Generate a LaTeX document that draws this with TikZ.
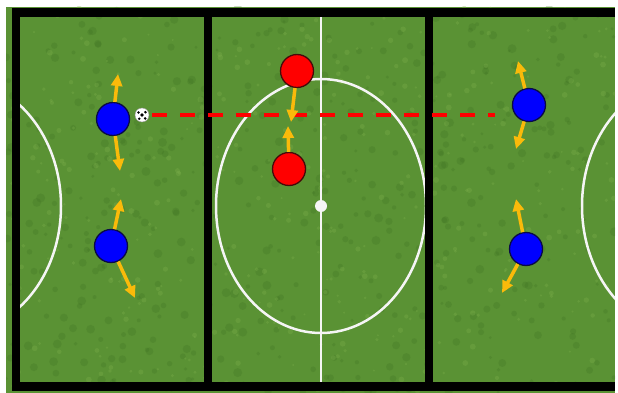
\documentclass[tikz,border=0pt]{standalone}
\usepackage{tikz}
\usetikzlibrary{arrows.meta,calc,positioning}
\definecolor{grass}{RGB}{90,146,52}
\definecolor{grassdark}{RGB}{62,112,34}
\definecolor{grasslight}{RGB}{128,178,78}
\definecolor{gold}{RGB}{250,186,10}
\definecolor{navy}{RGB}{10,10,70}
\definecolor{darkred}{RGB}{70,10,10}

\begin{document}
\begin{tikzpicture}[
  x=1pt,y=-1pt,
  >={Triangle[length=12pt,width=11pt]},
  pitchline/.style={draw=white!92!gray,line width=2.5pt},
  frame/.style={draw=black,line width=8.5pt},
  blueplayer/.style={circle,draw=navy,line width=1.3pt,fill=blue,minimum size=33pt,inner sep=0pt},
  redplayer/.style={circle,draw=darkred,line width=1.3pt,fill=red,minimum size=33pt,inner sep=0pt},
  ballnode/.style={circle,draw=black!40,fill=white,minimum size=14pt,inner sep=0pt},
  move/.style={->,draw=gold,fill=gold,line width=3.5pt},
  pass/.style={draw=red,line width=4pt,dash pattern=on 15pt off 13pt}
]
\useasboundingbox (0,0) rectangle (618,393);
\fill[white] (0,0) rectangle (618,393);
% Grass
\fill[grass] (6,7) rectangle (615,393);
\begin{scope}
  \clip (6,7) rectangle (615,393);
  \pgfmathsetseed{7}
  \foreach \i in {1,...,500}{
    \pgfmathsetmacro{\px}{6+rnd*609}
    \pgfmathsetmacro{\py}{7+rnd*386}
    \fill[grassdark,opacity=0.25] (\px,\py) circle (1.5+rnd*3);
  }
  \foreach \i in {1,...,400}{
    \pgfmathsetmacro{\px}{6+rnd*609}
    \pgfmathsetmacro{\py}{7+rnd*386}
    \fill[grasslight,opacity=0.3] (\px,\py) circle (1+rnd*2);
  }
\end{scope}
% Markings
\begin{scope}
  \clip (20,17) rectangle (615,382);
  \draw[pitchline] (321,17) -- (321,382);
  \draw[pitchline] (321,206) ellipse [x radius=105,y radius=127];
  \draw[pitchline] (-44,206) ellipse [x radius=105,y radius=127];
  \draw[pitchline] (687,206) ellipse [x radius=105,y radius=127];
\end{scope}
\node[circle,fill=white!92!gray,minimum size=12pt,inner sep=0pt] (spot) at (321,206) {};
% Frame
\draw[frame,line join=miter] (615,12.5) -- (16,12.5) -- (16,386.5) -- (615,386.5);
\draw[frame,line width=8pt] (208,12.5) -- (208,386.5);
\draw[frame,line width=8pt] (429,12.5) -- (429,386.5);
% Players
\node[blueplayer] (B1) at (113,119) {};
\node[blueplayer] (B2) at (111,246) {};
\node[blueplayer] (B3) at (529,105) {};
\node[blueplayer] (B4) at (526,249) {};
\node[redplayer] (R1) at (297,71) {};
\node[redplayer] (R2) at (289,169) {};
% Ball
\node[ballnode] (ball) at (142,115) {};
\foreach \dx/\dy/\r in {0/0/1.9,-3.6/-2.5/1.4,3.4/-2.8/1.4,-2.8/3.8/1.4,3.2/3.4/1.4}{
  \fill[black] ($(ball)+(\dx,\dy)$) circle (\r);
}
% Pass line
\coordinate (passend) at (495,115);
\draw[pass] (ball.east) ++(3,0) -- (passend);
% Movement arrows
\coordinate (B1u) at (118,74);
\coordinate (B1d) at (120,171);
\coordinate (B2u) at (121,199);
\coordinate (B2d) at (135,298);
\coordinate (B3u) at (518,61);
\coordinate (B3d) at (516,149);
\coordinate (B4u) at (516,199);
\coordinate (B4d) at (502,293);
\coordinate (R1d) at (291,122);
\coordinate (R2u) at (288,126);
\foreach \p/\t in {B1/B1u,B1/B1d,B2/B2u,B2/B2d,B3/B3u,B3/B3d,B4/B4u,B4/B4d,R1/R1d,R2/R2u}{
  \draw[move] (\p) -- (\t);
}
\end{tikzpicture}
\end{document}
